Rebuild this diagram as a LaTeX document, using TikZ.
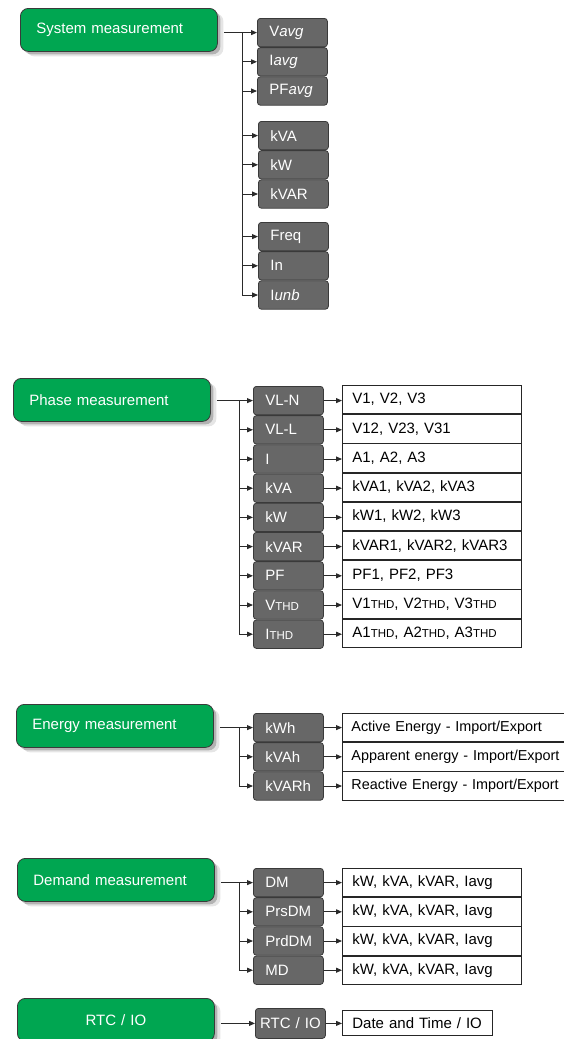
\documentclass[tikz,border=0pt]{standalone}
\usepackage{fontspec}
\setmainfont{Liberation Sans}
\usetikzlibrary{arrows.meta,positioning,calc,shadows}
\definecolor{leaf}{HTML}{00A651}
\definecolor{slate}{HTML}{676767}
\definecolor{rim}{HTML}{3A3A3A}
\definecolor{wire}{HTML}{2A2A2A}
\newcommand{\thdtag}{{\fontsize{11.5}{11.5}\selectfont THD}}
\tikzset{
  base/.style={align=left, inner ysep=0pt, font=\fontsize{15}{17}\selectfont},
  group/.style={base, rounded corners=8pt, fill=leaf, draw=rim, line width=0.8pt, text=white,
    inner xsep=16pt, text width=165pt, minimum height=43pt,
    drop shadow={shadow xshift=3pt, shadow yshift=-3pt, opacity=0.22, fill=black},
    drop shadow={shadow xshift=6pt, shadow yshift=-5pt, opacity=0.10, fill=black}},
  qty/.style={base, rounded corners=3pt, fill=slate, draw=rim, line width=0.8pt, text=white,
    inner xsep=12pt, text width=46pt, minimum height=28.4pt},
  vals/.style={base, fill=white, draw=black!85, line width=0.8pt, text=black,
    inner xsep=10pt, text width=159pt, minimum height=28.4pt},
  wide/.style={vals, text width=240pt, inner xsep=9pt, font=\fontsize{14.4}{17}\selectfont},
  link/.style={draw=wire, line width=0.9pt},
  arr/.style={link, -{Triangle[length=6pt,width=5pt]}},
}

\begin{document}
\begin{tikzpicture}[x=1pt, y=-1pt]
  \useasboundingbox (0,0) rectangle (563,1039);

  % system measurement
  \node[group, anchor=north west] (sysm) at (20,8) {System measurement};
  \node[qty, anchor=north west] (vavg) at (257,18) {V\textit{avg}};
  \node[qty, below=0pt of vavg] (iavg) {I\textit{avg}};
  \node[qty, below=0pt of iavg] (pfavg) {PF\textit{avg}};
  \node[qty, anchor=north west] (kva) at (258,121) {kVA};
  \node[qty, below=0pt of kva] (kw) {kW};
  \node[qty, below=0pt of kw] (kvar) {kVAR};
  \node[qty, anchor=north west] (freq) at (258,222) {Freq};
  \node[qty, below=0pt of freq] (ineu) {In};
  \node[qty, below=0pt of ineu] (iunb) {I\textit{unb}};
  \coordinate (sysj) at (242,0);
  \draw[arr, shorten <=6pt] (sysm.east |- vavg.west) -- (vavg.west);
  \draw[link] (sysj |- vavg.west) -- (sysj |- iunb.west);
  \foreach \n in {iavg,pfavg,kva,kw,kvar,freq,ineu,iunb} \draw[arr] (sysj |- \n.west) -- (\n.west);

  % phase measurement
  \node[group, anchor=north west] (phm) at (13,378) {Phase measurement};
  \node[qty, anchor=north west] (vln) at (253,386) {VL-N};
  \node[qty, below=0pt of vln] (vll) {VL-L};
  \node[qty, below=0pt of vll] (icur) {I};
  \node[qty, below=0pt of icur] (pkva) {kVA};
  \node[qty, below=0pt of pkva] (pkw) {kW};
  \node[qty, below=0pt of pkw] (pkvar) {kVAR};
  \node[qty, below=0pt of pkvar] (ppf) {PF};
  \node[qty, below=0pt of ppf] (vthd) {V\thdtag};
  \node[qty, below=0pt of vthd] (ithd) {I\thdtag};
  \node[vals, anchor=north west] (vlnv) at (342,385) {V1, V2, V3};
  \node[vals, below=0pt of vlnv] (vllv) {V12, V23, V31};
  \node[vals, below=0pt of vllv] (icurv) {A1, A2, A3};
  \node[vals, below=0pt of icurv] (pkvav) {kVA1, kVA2, kVA3};
  \node[vals, below=0pt of pkvav] (pkwv) {kW1, kW2, kW3};
  \node[vals, below=0pt of pkwv] (pkvarv) {kVAR1, kVAR2, kVAR3};
  \node[vals, below=0pt of pkvarv] (ppfv) {PF1, PF2, PF3};
  \node[vals, below=0pt of ppfv] (vthdv) {V1\thdtag, V2\thdtag, V3\thdtag};
  \node[vals, below=0pt of vthdv] (ithdv) {A1\thdtag, A2\thdtag, A3\thdtag};
  \coordinate (phj) at (239,0);
  \draw[arr, shorten <=6pt] (phm.east |- vln.west) -- (vln.west);
  \draw[link] (phj |- vln.west) -- (phj |- ithd.west);
  \foreach \n in {vll,icur,pkva,pkw,pkvar,ppf,vthd,ithd} \draw[arr] (phj |- \n.west) -- (\n.west);
  \foreach \n in {vln,vll,icur,pkva,pkw,pkvar,ppf,vthd,ithd} \draw[arr] (\n.east) -- (\n.east -| \n v.west);

  % energy measurement
  \node[group, anchor=north west] (enm) at (16,704) {Energy measurement};
  \node[qty, anchor=north west] (kwh) at (253,713) {kWh};
  \node[qty, below=0pt of kwh] (kvah) {kVAh};
  \node[qty, below=0pt of kvah] (kvarh) {kVARh};
  \node[wide, anchor=north west] (kwhv) at (342,713) {Active Energy - Import/Export};
  \node[wide, below=0pt of kwhv] (kvahv) {Apparent energy - Import/Export};
  \node[wide, below=0pt of kvahv] (kvarhv) {Reactive Energy - Import/Export};
  \coordinate (enj) at (239,0);
  \draw[arr, shorten <=6pt] (enm.east |- kwh.west) -- (kwh.west);
  \draw[link] (enj |- kwh.west) -- (enj |- kvarh.west);
  \foreach \n in {kvah,kvarh} \draw[arr] (enj |- \n.west) -- (\n.west);
  \foreach \n in {kwh,kvah,kvarh} \draw[arr] (\n.east) -- (\n.east -| \n v.west);

  % demand measurement
  \node[group, anchor=north west] (dmm) at (17,858) {Demand measurement};
  \node[qty, anchor=north west] (dm) at (253,868) {DM};
  \node[qty, below=0pt of dm] (prsdm) {PrsDM};
  \node[qty, below=0pt of prsdm] (prddm) {PrdDM};
  \node[qty, below=0pt of prddm] (md) {MD};
  \node[vals, anchor=north west] (dmv) at (342,868) {kW, kVA, kVAR, Iavg};
  \node[vals, below=0pt of dmv] (prsdmv) {kW, kVA, kVAR, Iavg};
  \node[vals, below=0pt of prsdmv] (prddmv) {kW, kVA, kVAR, Iavg};
  \node[vals, below=0pt of prddmv] (mdv) {kW, kVA, kVAR, Iavg};
  \coordinate (dmj) at (239,0);
  \draw[arr, shorten <=6pt] (dmm.east |- dm.west) -- (dm.west);
  \draw[link] (dmj |- dm.west) -- (dmj |- md.west);
  \foreach \n in {prsdm,prddm,md} \draw[arr] (dmj |- \n.west) -- (\n.west);
  \foreach \n in {dm,prsdm,prddm,md} \draw[arr] (\n.east) -- (\n.east -| \n v.west);

  % rtc / io
  \node[group, align=center, anchor=north west] (rtcm) at (17,998) {RTC / IO};
  \node[qty, align=center, inner xsep=2pt, text width=66pt, minimum height=30pt, anchor=north west] (rtc) at (255,1008) {RTC / IO};
  \node[vals, text width=130pt, minimum height=25pt, anchor=north west] (rtcv) at (342,1010) {Date and Time / IO};
  \draw[arr, shorten <=6pt] (rtcm.east |- rtc.west) -- (rtc.west);
  \draw[arr] (rtc.east) -- (rtc.east -| rtcv.west);
\end{tikzpicture}
\end{document}
